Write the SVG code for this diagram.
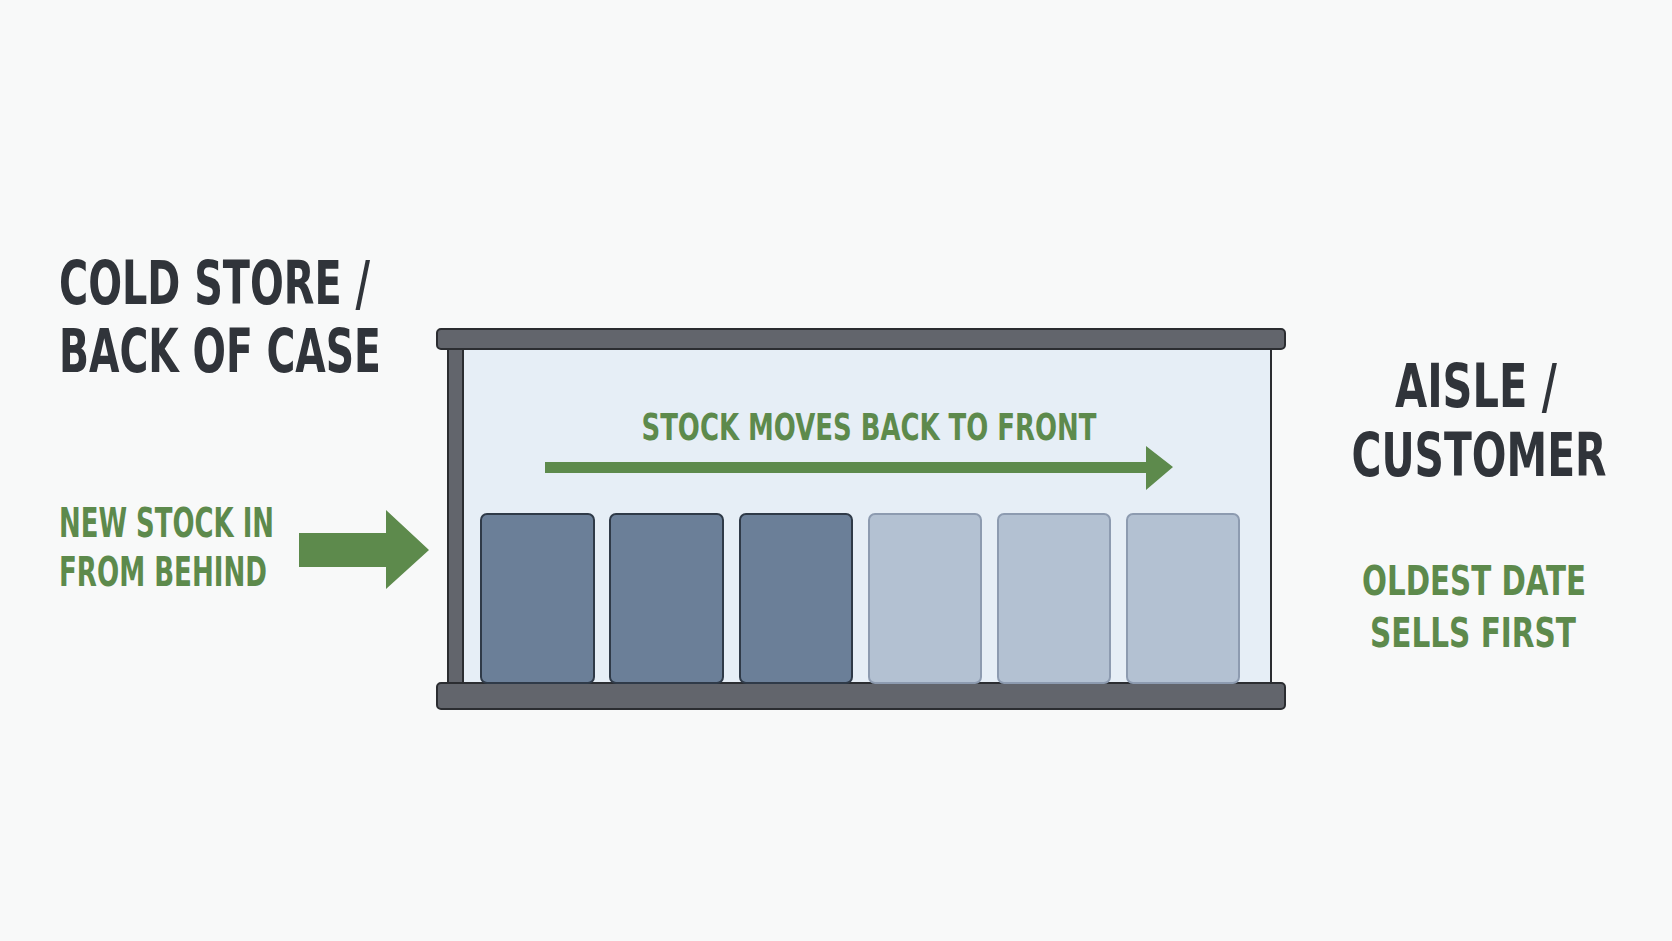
<svg xmlns="http://www.w3.org/2000/svg" width="1672" height="941" viewBox="0 0 1672 941">
<style>
.title{font-family:"Liberation Sans Narrow","DejaVu Sans Condensed","Liberation Sans",sans-serif;font-weight:bold;fill:#30343a;font-size:60px}
.green{font-family:"Liberation Sans Narrow","DejaVu Sans Condensed","Liberation Sans",sans-serif;font-weight:bold;fill:#5d8a4c;font-size:40px}
.bar{fill:#62656c;stroke:#2b2d31;stroke-width:2}
.dark{fill:#6b7f98;stroke:#2f3a48;stroke-width:2}
.light{fill:#b3c1d2;stroke:#8d9bb0;stroke-width:2}
.arrow{fill:#5d8a4c}
</style>
<rect width="1672" height="941" fill="#f8f9f9"/>
<g id="left-label">
<text class="title" x="59" y="304" textLength="311" lengthAdjust="spacingAndGlyphs">COLD STORE /</text>
<text class="title" x="59" y="372" textLength="322" lengthAdjust="spacingAndGlyphs">BACK OF CASE</text>
</g>
<g id="new-stock">
<text class="green" x="59" y="537" textLength="215" lengthAdjust="spacingAndGlyphs">NEW STOCK IN</text>
<text class="green" x="59" y="586" textLength="208" lengthAdjust="spacingAndGlyphs">FROM BEHIND</text>
</g>
<g id="case">
<rect x="463" y="347" width="808" height="337" fill="#e6eef6" stroke="#2b2d31" stroke-width="2"/>
<rect class="bar" x="448" y="347" width="15" height="337"/>
<rect class="bar" x="437" y="329" width="848" height="20" rx="4"/>
<rect class="bar" x="437" y="683" width="848" height="26" rx="4"/>
<text class="green" x="869" y="440" text-anchor="middle" font-size="38" textLength="455" lengthAdjust="spacingAndGlyphs" style="font-size:38px">STOCK MOVES BACK TO FRONT</text>
<rect class="dark" x="481" y="514" width="113" height="169" rx="6"/>
<rect class="dark" x="610" y="514" width="113" height="169" rx="6"/>
<rect class="dark" x="740" y="514" width="112" height="169" rx="6"/>
<rect class="light" x="869" y="514" width="112" height="169" rx="6"/>
<rect class="light" x="998" y="514" width="112" height="169" rx="6"/>
<rect class="light" x="1127" y="514" width="112" height="169" rx="6"/>
</g>
<g id="right-label">
<text class="title" x="1476" y="407" text-anchor="middle" textLength="162" lengthAdjust="spacingAndGlyphs">AISLE /</text>
<text class="title" x="1479" y="476" text-anchor="middle" textLength="255" lengthAdjust="spacingAndGlyphs">CUSTOMER</text>
</g>
<g id="oldest">
<text class="green" x="1474" y="595" text-anchor="middle" textLength="224" lengthAdjust="spacingAndGlyphs">OLDEST DATE</text>
<text class="green" x="1473" y="647" text-anchor="middle" textLength="206" lengthAdjust="spacingAndGlyphs">SELLS FIRST</text>
</g>
<g id="connectors">
<path class="arrow" d="M299 533 H386 V510 L429 550 L386 589 V567 H299 Z"/>
<path class="arrow" d="M545 462 H1146 V446 L1173 467 L1146 490 V473 H545 Z"/>
</g>
</svg>
